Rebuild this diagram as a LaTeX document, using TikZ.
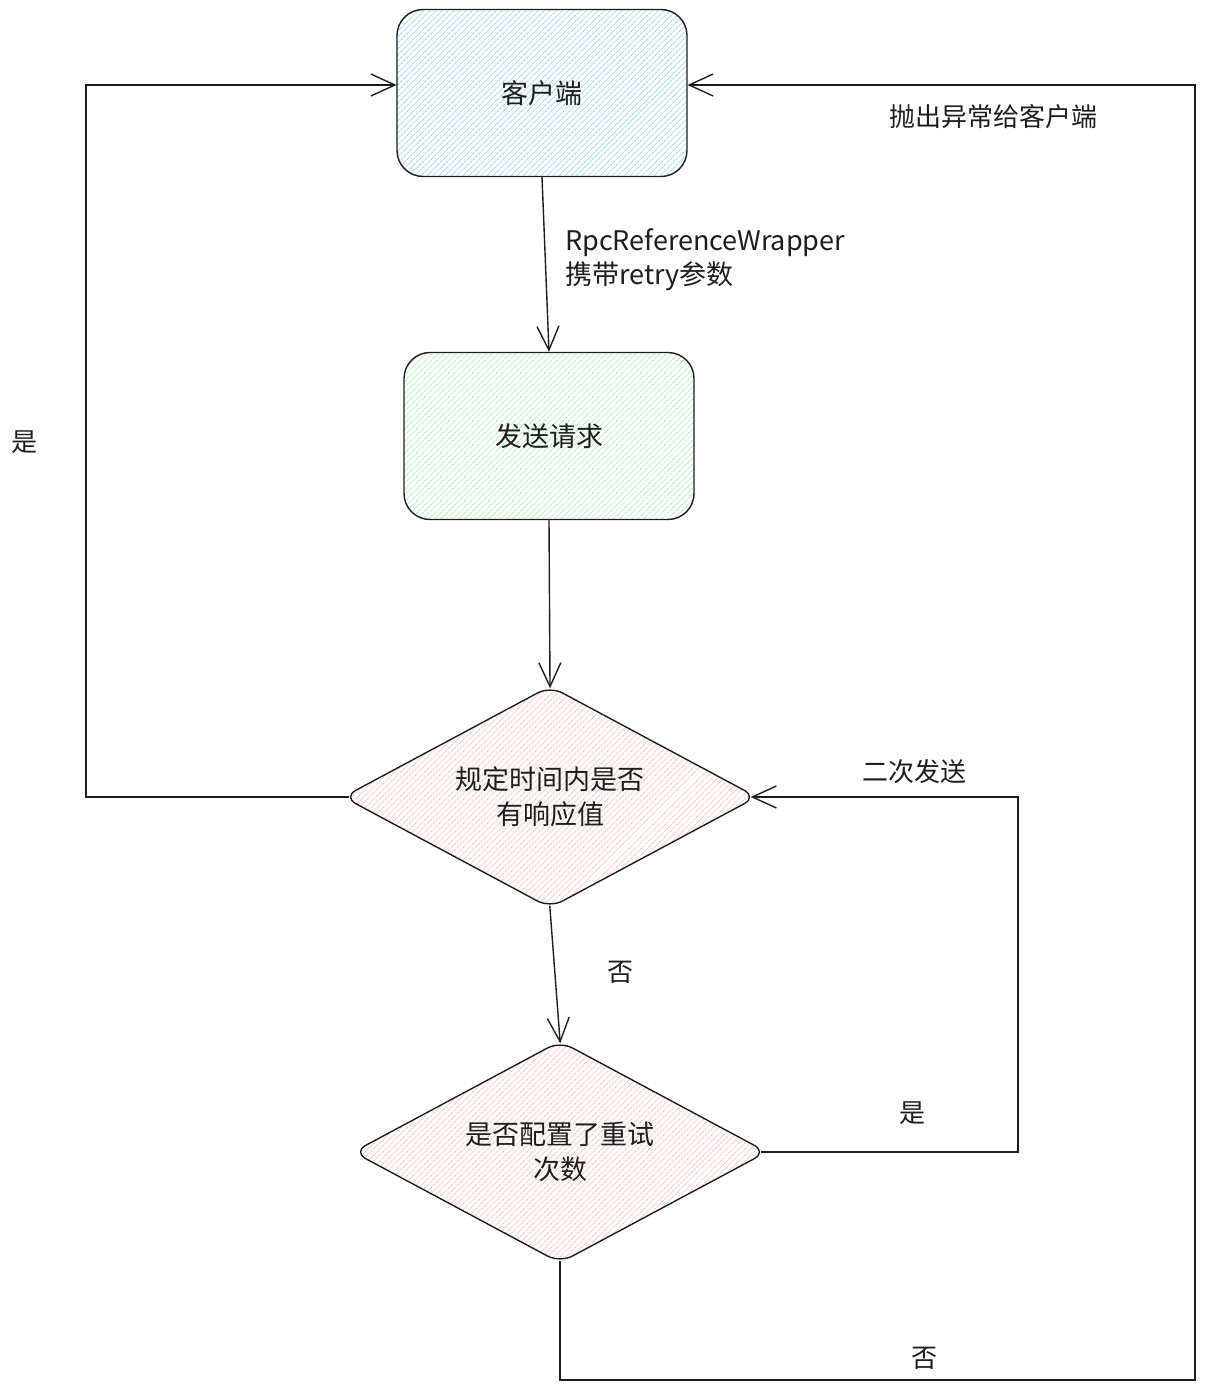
\documentclass[tikz,border=0pt]{standalone}
\usepackage{fontspec}
\setmainfont{Noto Sans CJK SC}
\usetikzlibrary{arrows.meta,shapes.geometric,patterns.meta}
\definecolor{ink}{HTML}{1E1E1E}
\definecolor{hblue}{HTML}{A5D8FF}
\definecolor{hgreen}{HTML}{B2F2BB}
\definecolor{hred}{HTML}{FFC9C9}
\tikzset{
  ln/.style={draw=ink,line width=1.4pt},
  arr/.style={ln,-{Straight Barb[length=24pt,width=22pt,line width=1.4pt]}},
  boxnode/.style={ln,rounded corners=26pt,minimum width=290pt,minimum height=167pt,inner sep=0pt,
    font=\fontsize{27}{32}\selectfont,text=ink},
  decnode/.style={ln,diamond,rounded corners=14pt,minimum width=414pt,minimum height=222pt,inner sep=0pt,
    aspect=1.87,align=center,font=\fontsize{27}{35}\selectfont,text=ink,pattern color=hred,
    pattern={Lines[angle=45,distance=4pt,line width=0.9pt]}},
  lbl/.style={font=\fontsize{26}{33}\selectfont,text=ink,inner sep=0pt},
}
\begin{document}
\begin{tikzpicture}[x=1pt,y=-1pt]
\useasboundingbox (0,0) rectangle (1217,1392);
\node[boxnode,pattern color=hblue,pattern={Lines[angle=45,distance=4pt,line width=0.9pt]}] (c) at (542,93) {客户端};
\node[boxnode,pattern color=hgreen,pattern={Lines[angle=45,distance=4pt,line width=0.9pt]}] (s) at (549,436) {发送请求};
\node[decnode] (d1) at (550,797) {规定时间内是否\\有响应值};
\node[decnode] (d2) at (560,1152) {是否配置了重试\\次数};
\coordinate (rx) at (1018,0);
\coordinate (lx) at (86,0);
\coordinate (fx) at (1195,0);
\coordinate (by) at (0,1380);
% connectors
\draw[arr] (c.south) -- (s.north);
\draw[arr,shorten >=-3pt] (s.south) -- (d1.north);
\draw[arr,shorten <=-3pt,shorten >=-3pt] (d1.south) -- (d2.north);
\draw[arr,shorten <=-7pt,shorten >=-7pt] (d2.east) -- (d2.east -| rx) -- (d1.east -| rx) -- (d1.east);
\draw[arr,shorten <=-7pt] (d1.west) -- (d1.west -| lx) -- ([yshift=8pt]c.west -| lx) -- ([yshift=8pt]c.west);
\draw[arr,shorten <=-3pt] (d2.south) -- (d2.south |- by) -- (fx |- by) -- ([yshift=8pt]c.east -| fx) -- ([yshift=8pt]c.east);
% labels
\node[lbl,anchor=west,align=left,font=\fontsize{27}{34}\selectfont] (rw) at (565,260) {RpcReferenceWrapper\\携带retry参数};
\node[lbl] (no1) at (620,972) {否};
\node[lbl] (yes1) at (24,442) {是};
\node[lbl] (again) at (914,772) {二次发送};
\node[lbl] (yes2) at (912,1113) {是};
\node[lbl] (no2) at (924,1358) {否};
\node[lbl] (thr) at (993,117) {抛出异常给客户端};
\end{tikzpicture}
\end{document}
